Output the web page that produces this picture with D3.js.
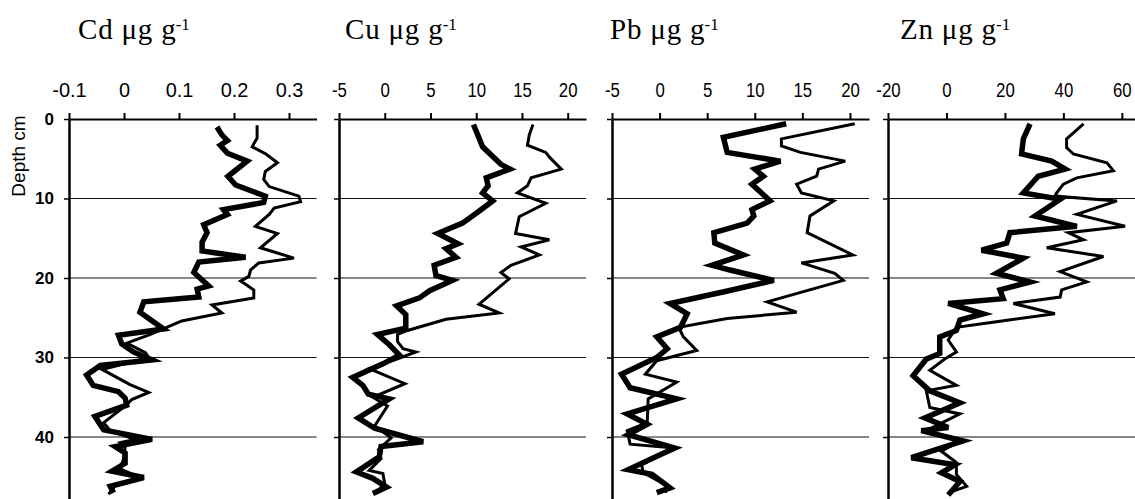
<!DOCTYPE html>
<html>
<head>
<meta charset="utf-8">
<script src="https://cdn.jsdelivr.net/npm/d3@7"></script>
<style>
  html, body { margin: 0; padding: 0; background: #fff; }
  svg { display: block; }
</style>
</head>
<body>
<div id="chart"></div>
<script>
// depth (cm) / concentration pairs
const cdThick = [[1.0,0.169],[2.0,0.178],[2.7,0.188],[3.3,0.175],[4.3,0.188],[5.3,0.224],[6.6,0.200],[7.2,0.189],[8.3,0.203],[9.7,0.257],[10.5,0.254],[11.4,0.181],[12.0,0.188],[13.3,0.145],[14.3,0.151],[15.5,0.142],[16.6,0.142],[17.4,0.221],[18.0,0.136],[19.3,0.127],[21.0,0.154],[21.4,0.133],[22.4,0.136],[23.0,0.036],[24.3,0.029],[26.4,0.072],[27.2,-0.010],[28.3,-0.004],[29.3,0.017],[30.3,0.051],[31.0,-0.043],[32.2,-0.068],[33.5,-0.056],[34.3,-0.010],[35.1,0.002],[36.0,0.005],[37.4,-0.053],[39.1,-0.037],[40.3,0.051],[41.2,-0.016],[42.0,0.002],[43.3,0.002],[44.3,-0.022],[45.1,0.036],[46.2,-0.025],[47.0,-0.019]];
const cdThin = [[0.8,0.242],[2.4,0.242],[3.5,0.233],[4.4,0.258],[5.5,0.279],[6.6,0.257],[7.6,0.254],[8.5,0.264],[9.7,0.318],[10.4,0.321],[11.2,0.273],[12.0,0.264],[13.5,0.239],[14.4,0.279],[16.2,0.248],[17.5,0.309],[18.1,0.245],[19.0,0.230],[19.8,0.227],[20.4,0.212],[20.8,0.221],[21.5,0.236],[22.5,0.236],[23.4,0.160],[24.4,0.178],[25.4,0.105],[27.1,0.048],[28.2,0.005],[29.4,0.039],[30.0,0.045],[31.5,-0.040],[33.4,0.011],[34.4,0.045],[35.3,0.014],[36.1,0.002],[38.2,-0.037],[39.2,-0.025],[40.3,0.020],[40.7,-0.007],[41.3,0.002],[42.8,-0.001],[44.0,-0.007],[45.1,0.029],[46.1,-0.016],[47.2,-0.028]];

const cuThick = [[0.7,9.7],[3.5,10.7],[5.7,12.7],[6.3,13.7],[7.4,11.1],[8.4,11.3],[9.3,10.7],[10.3,11.8],[11.6,10.3],[13.1,8.5],[14.4,5.8],[15.7,8.0],[16.3,6.7],[17.4,7.8],[18.4,5.4],[19.7,5.6],[20.3,7.4],[21.6,4.9],[22.5,3.8],[23.5,1.3],[24.6,2.3],[26.3,2.3],[27.1,-0.8],[28.4,0.5],[29.7,1.6],[30.8,-0.2],[32.5,-3.5],[33.5,-2.4],[34.6,-1.8],[35.2,0.5],[37.6,-2.9],[38.9,-1.1],[40.6,4.2],[41.2,-0.4],[42.5,-0.6],[44.4,-3.1],[45.2,-1.3],[46.3,0.2],[47.1,-1.3]];
const cuThin = [[0.7,16.2],[2.0,15.8],[3.3,15.6],[4.2,17.6],[4.8,18.0],[6.3,19.3],[7.4,16.0],[8.4,15.6],[9.3,14.5],[10.6,17.6],[12.3,14.7],[14.4,14.3],[15.2,18.0],[16.1,14.9],[17.1,16.9],[18.4,13.8],[19.3,12.7],[20.1,13.6],[23.3,10.3],[24.4,12.5],[25.2,6.7],[26.7,2.2],[27.1,1.4],[28.0,1.4],[28.9,2.0],[29.3,3.4],[30.3,1.1],[31.4,-1.7],[33.3,2.2],[35.0,-1.3],[36.1,0.3],[38.6,-1.1],[40.1,0.7],[41.6,-0.7],[42.7,-0.4],[44.2,-1.7],[44.6,-0.2],[45.9,0.0],[46.9,-0.9]];

const pbThick = [[0.6,13.3],[2.3,6.7],[4.2,7.1],[5.3,12.7],[6.3,10.0],[7.2,10.9],[8.2,9.7],[10.3,11.6],[11.4,9.7],[12.2,9.9],[13.1,9.2],[14.3,5.7],[15.6,5.8],[17.1,8.8],[18.4,5.5],[19.0,7.4],[20.3,12.0],[21.7,6.9],[23.2,1.1],[24.5,2.9],[26.2,2.2],[27.4,-0.3],[28.9,0.8],[30.0,-0.3],[32.1,-4.0],[33.8,-3.1],[35.2,1.8],[37.1,-3.4],[38.4,-1.3],[39.7,-3.3],[41.4,1.6],[42.2,0.1],[44.1,-3.3],[44.7,-0.8],[46.4,1.1],[47.0,-0.3]];
const pbThin = [[0.6,20.5],[2.5,12.8],[3.4,12.8],[4.2,14.8],[5.3,19.5],[6.3,16.7],[7.2,16.5],[8.2,14.4],[9.3,14.9],[10.3,18.3],[12.2,15.8],[14.3,15.5],[17.1,20.3],[18.1,14.9],[19.4,18.4],[20.3,19.3],[23.0,11.3],[24.3,14.4],[25.1,7.1],[26.2,2.0],[27.4,2.5],[29.1,3.9],[30.4,-0.3],[32.1,-1.5],[33.1,1.8],[35.2,-1.2],[38.2,-1.3],[39.2,-3.4],[40.9,-3.1],[41.4,1.6],[43.5,-1.9],[44.5,-1.7],[46.2,0.9],[47.0,0.6]];

const znThick = [[0.6,28.6],[2.5,26.3],[4.4,25.7],[5.3,36.0],[6.3,40.6],[7.2,31.4],[9.3,26.3],[10.1,38.9],[12.2,30.3],[13.5,44.6],[14.3,21.7],[15.6,20.6],[16.5,12.0],[17.5,26.3],[19.4,17.1],[20.5,28.6],[21.5,18.3],[22.6,19.4],[23.2,0.6],[24.5,12.6],[25.3,4.6],[26.6,3.4],[27.4,-2.3],[29.5,-2.3],[30.2,-6.9],[32.3,-11.4],[34.2,-5.7],[35.7,4.6],[37.6,-7.4],[38.8,0.6],[39.2,-8.6],[40.5,5.7],[42.6,-12.0],[43.5,2.9],[44.5,-1.7],[45.6,4.6],[47.3,0.6]];
const znThin = [[0.6,46.9],[2.5,41.1],[3.6,41.1],[4.4,43.4],[5.5,54.9],[6.5,57.1],[7.4,44.6],[8.2,40.0],[9.3,37.7],[9.7,37.1],[10.3,58.3],[12.0,44.6],[13.5,61.1],[14.3,41.7],[15.2,46.9],[16.2,34.3],[17.3,53.7],[19.2,38.9],[20.5,48.0],[21.5,39.4],[22.4,38.9],[23.2,22.9],[24.5,37.1],[25.5,17.1],[26.2,3.4],[27.8,0.6],[29.3,3.4],[30.2,-0.6],[31.6,-5.7],[33.5,3.4],[34.2,-6.9],[36.3,-5.7],[37.1,4.6],[39.2,-6.9],[40.5,4.6],[41.8,-1.7],[43.2,3.4],[44.7,3.4],[46.2,6.9],[46.8,2.3]];

const cdTicks = [-0.1, 0, 0.1, 0.2, 0.3];
const cuTicks = [-5, 0, 5, 10, 15, 20];
const pbTicks = [-5, 0, 5, 10, 15, 20];
const znTicks = [-20, 0, 20, 40, 60];
const depthTicks = [0, 10, 20, 30, 40];
const gridDepths = [10, 20, 30, 40];
const elements = ["Cd", "Cu", "Pb", "Zn"];

const width = 1135, height = 499;
const axisY = 119;

const svg = d3.select("#chart").append("svg")
  .attr("width", width)
  .attr("height", height);

const y = d3.scaleLinear().domain([0, 48]).range([axisY, 500.6]);

// one entry per panel
const panels = [
  { name: elements[0], domain: [-0.1, 0.35], range: [69, 316.5], ticks: cdTicks, thick: cdThick, thin: cdThin, titleX: 78, sx: 0.95 },
  { name: elements[1], domain: [-5, 22], range: [339, 586], ticks: cuTicks, thick: cuThick, thin: cuThin, titleX: 345, sx: 0.8 },
  { name: elements[2], domain: [-5, 22], range: [612, 869], ticks: pbTicks, thick: pbThick, thin: pbThin, titleX: 610, sx: 0.8 },
  { name: elements[3], domain: [-20, 64.5], range: [888, 1135], ticks: znTicks, thick: znThick, thin: znThin, titleX: 900, sx: 0.8 }
];

panels.forEach((p, i) => {
  const x = d3.scaleLinear().domain(p.domain).range(p.range);
  const g = svg.append("g");

  // --- Gridlines ---
  g.selectAll(".grid")
    .data(gridDepths)
    .join("line")
      .attr("x1", p.range[0]).attr("x2", p.range[1])
      .attr("y1", d => y(d)).attr("y2", d => y(d))
      .attr("stroke", "#111")
      .attr("stroke-width", 1.2);

  // --- Profiles ---
  const line = d3.line()
    .x(d => x(d[1]))
    .y(d => y(d[0]));

  g.append("path")
    .datum(p.thin)
    .attr("fill", "none")
    .attr("stroke", "#000")
    .attr("stroke-width", 3)
    .attr("d", line);

  g.append("path")
    .datum(p.thick)
    .attr("fill", "none")
    .attr("stroke", "#000")
    .attr("stroke-width", 5.5)
    .attr("d", line);

  // --- Top axis ---
  const top = g.append("g")
    .attr("transform", `translate(0,${axisY})`)
    .call(d3.axisTop(x).tickValues(p.ticks).tickSize(6).tickSizeOuter(0).tickPadding(16).tickFormat(d => String(d)));
  top.select(".domain").attr("stroke-width", 2.2);
  top.selectAll(".tick line").attr("stroke-width", 2);
  top.selectAll(".tick text")
    .attr("font-family", "Arial, 'Liberation Sans', sans-serif")
    .attr("font-size", 21)
    .attr("fill", "#000")
    .attr("transform", `scale(${p.sx},1)`);

  // --- Depth axis ---
  const left = g.append("g")
    .attr("transform", `translate(${p.range[0]},0)`)
    .call(d3.axisLeft(y).tickValues(depthTicks).tickSize(5).tickSizeOuter(0).tickPadding(10));
  left.select(".domain").attr("stroke-width", 2.5);
  left.selectAll(".tick line").attr("stroke-width", 1.5);
  left.selectAll(".tick text")
    .attr("font-family", "Arial, 'Liberation Sans', sans-serif")
    .attr("font-size", 17)
    .attr("font-weight", "bold")
    .attr("fill", "#000")
    .style("display", i === 0 ? null : "none");

  // --- Title ---
  const title = svg.append("text")
    .attr("x", p.titleX)
    .attr("y", 38.5)
    .attr("font-family", "'Times New Roman', 'Liberation Serif', serif")
    .attr("font-size", 29)
    .attr("fill", "#000");
  title.append("tspan").attr("letter-spacing", 0.8).text(`${p.name} μg `);
  title.append("tspan").text("g");
  title.append("tspan").attr("dy", -9).attr("font-size", 17).text("-1");
});

svg.append("text")
  .attr("transform", "translate(25,156) rotate(-90)")
  .attr("text-anchor", "middle")
  .attr("font-family", "Arial, 'Liberation Sans', sans-serif")
  .attr("font-size", 19)
  .attr("fill", "#000")
  .text("Depth cm");
</script>
</body>
</html>
